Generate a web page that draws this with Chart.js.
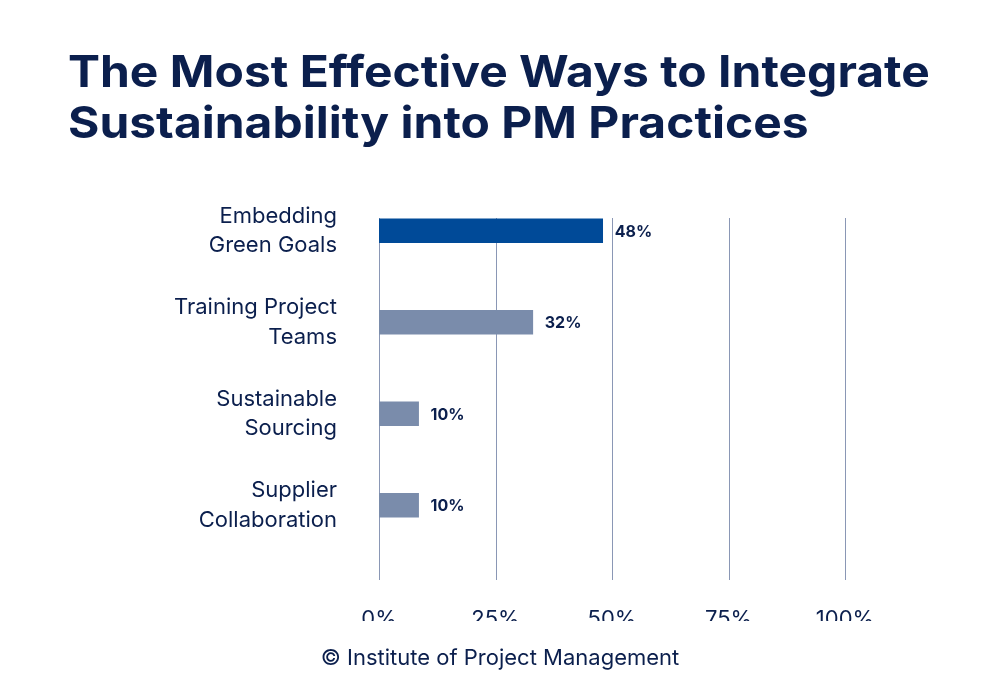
<!DOCTYPE html>
<html>
<head>
<meta charset="utf-8">
<script src="https://cdn.jsdelivr.net/npm/chart.js@4/dist/chart.umd.min.js"></script>
<style>
  body { margin: 0; background: #fff; }
  canvas { display: block; }
</style>
</head>
<body>
<canvas id="chart" width="1000" height="700"></canvas>
<script>
// Data
const categories = [['Embedding', 'Green Goals'], ['Training Project', 'Teams'], ['Sustainable', 'Sourcing'], ['Supplier', 'Collaboration']];
const values = [48, 33, 8.5, 8.5];
const valueLabels = ['48%', '32%', '10%', '10%'];
const barColors = ['#004a98', '#7a8cab', '#7a8cab', '#7a8cab'];
const gridValues = [0, 25, 50, 75, 100];
const titleLines = ['The Most Effective Ways to Integrate', 'Sustainability into PM Practices'];
const footerText = '\u00A9 Institute of Project Management';

const navy = '#0b1f4d';
const fontFamily = 'Inter, "Noto Sans", sans-serif';

// Grid lines behind the bars
const gridPlugin = {
    id: 'gridPlugin',
    beforeDatasetsDraw(chart) {
        const ctx = chart.ctx;
        const x = chart.scales.x;
        ctx.save();
        ctx.strokeStyle = '#8a97b5';
        ctx.lineWidth = 1;
        gridValues.forEach(v => {
            const px = Math.round(x.getPixelForValue(v)) + 0.5;
            ctx.beginPath();
            ctx.moveTo(px, 218);
            ctx.lineTo(px, 580);
            ctx.stroke();
        });
        ctx.restore();
    }
};

// Title, footer and value labels
const textPlugin = {
    id: 'textPlugin',
    afterDraw(chart) {
        const ctx = chart.ctx;
        ctx.save();
        ctx.fillStyle = navy;
        ctx.textBaseline = 'alphabetic';
        ctx.textAlign = 'left';
        ctx.font = '700 44px ' + fontFamily;
        ctx.save();
        ctx.translate(68, 0);
        ctx.scale(1.09, 1);
        ctx.fillText(titleLines[0], 0, 87);
        ctx.fillText(titleLines[1], 0, 138);
        ctx.restore();

        ctx.textAlign = 'center';
        ctx.textBaseline = 'middle';
        ctx.font = '400 22px ' + fontFamily;
        ctx.fillText(footerText, 500, 658);

        ctx.textAlign = 'left';
        ctx.font = '700 16px ' + fontFamily;
        chart.getDatasetMeta(0).data.forEach((bar, i) => {
            ctx.fillText(valueLabels[i], bar.x + 12, bar.y + 1);
        });
        ctx.restore();
    }
};

new Chart(document.getElementById('chart'), {
    type: 'bar',
    data: {
        labels: categories,
        datasets: [{
            data: values,
            backgroundColor: barColors,
            barThickness: 24
        }]
    },
    options: {
        indexAxis: 'y',
        responsive: false,
        animation: false,
        layout: { padding: { top: 185, bottom: 79, right: 155, left: 0 } },
        plugins: {
            legend: { display: false },
            tooltip: { enabled: false }
        },
        scales: {
            x: {
                min: 0,
                max: 100,
                ticks: {
                    stepSize: 25,
                    color: navy,
                    padding: 47,
                    font: { size: 22, family: fontFamily },
                    callback: v => v + '%'
                },
                grid: { display: false },
                border: { display: false },
                afterFit: s => { s.height = 70; }
            },
            y: {
                ticks: {
                    color: navy,
                    padding: 34,
                    font: { size: 22, family: fontFamily, lineHeight: 1.35 }
                },
                grid: { display: false },
                border: { display: false },
                afterFit: s => { s.width = 379; }
            }
        }
    },
    plugins: [gridPlugin, textPlugin]
});
</script>
</body>
</html>
